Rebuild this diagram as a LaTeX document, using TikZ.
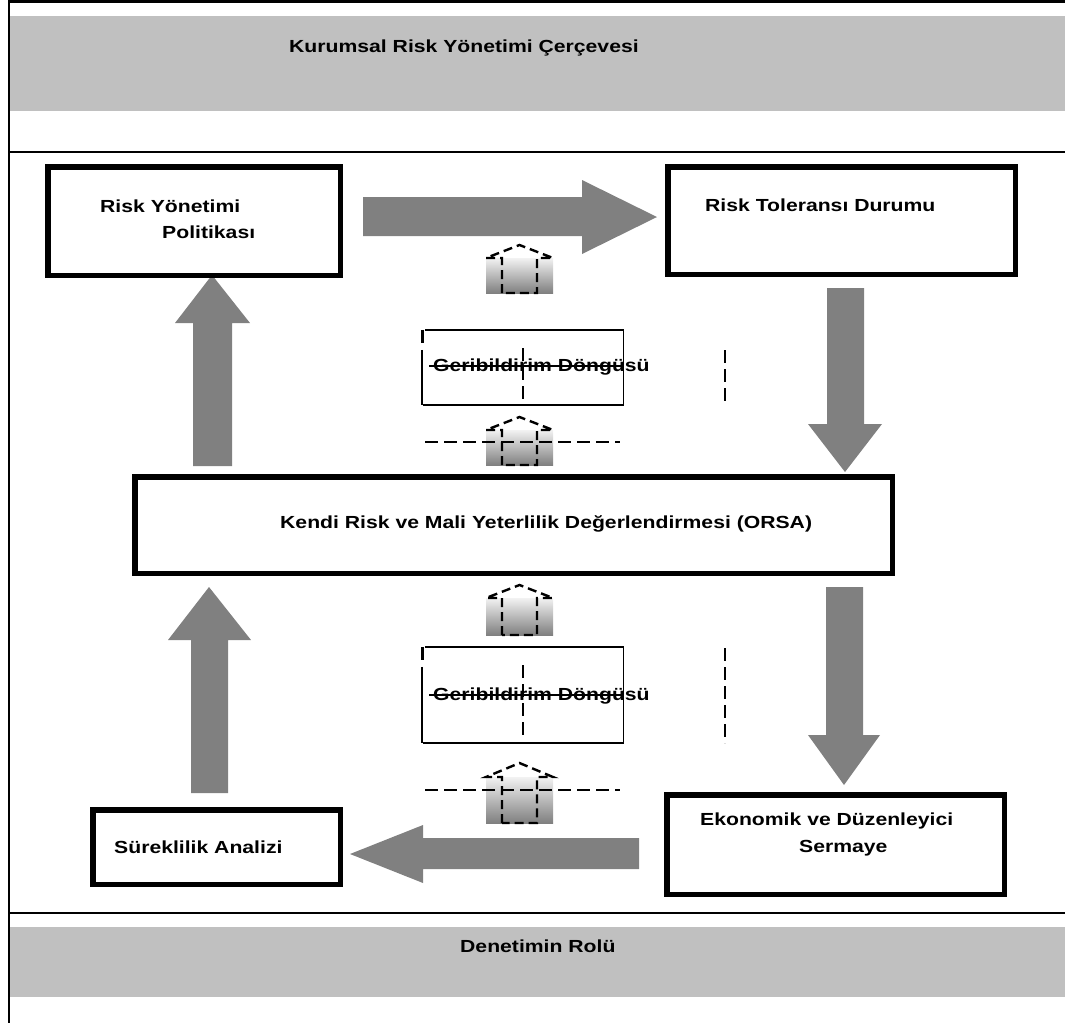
\documentclass[tikz,border=0pt]{standalone}
\usepackage{fontspec}
\setmainfont{Liberation Sans}[FakeStretch=1.21]
\definecolor{bandgray}{HTML}{C0C0C0}
\definecolor{arrowgray}{HTML}{808080}
\newcommand\lblfont{\fontsize{17.5}{21}\selectfont\bfseries}
\begin{document}
\begin{tikzpicture}[x=1pt,y=-1pt,
  band/.style={fill=bandgray, draw=none},
  frameline/.style={line width=2.5pt},
  box/.style={draw=black, line width=5.5pt, rectangle, inner sep=0pt, fill=white},
  fbbox/.style={draw=none, rectangle, inner sep=0pt},
  fbline/.style={line width=1.5pt},
  fbedge/.style={line width=2pt},
  lbl/.style={anchor=base west, inner sep=0pt, font=\lblfont},
  blockarrow/.style={fill=arrowgray, draw=none},
  dashln/.style={line width=2pt, dash pattern=on 13pt off 6pt},
  strike/.style={line width=1.3pt},
  iconfill/.style={top color=black!5, bottom color=black!50, draw=none},
  iconline/.style={line width=2.4pt, dash pattern=on 9pt off 5pt}
]
\useasboundingbox (0,0) rectangle (1065,1023);

% header and footer bands
\fill[band] (10,16) rectangle (1065,111);
\fill[band] (10,927) rectangle (1065,997);

% frame
\draw[frameline] (9,0) -- (9,1023);
\draw[frameline] (9,1.5) -- (1065,1.5);
\draw[frameline] (9,152) -- (1065,152);
\draw[frameline] (9,913) -- (1065,913);

% block arrows between the stages
\fill[blockarrow] (363,197) -- (582,197) -- (582,180) -- (657,217) -- (582,254) -- (582,236) -- (363,236) -- cycle;
\fill[blockarrow] (827,288) -- (864,288) -- (864,424) -- (882,424) -- (845,472) -- (808,424) -- (827,424) -- cycle;
\fill[blockarrow] (193,466) -- (193,323) -- (175,323) -- (212,275) -- (250,323) -- (232,323) -- (232,466) -- cycle;
\fill[blockarrow] (826,587) -- (863,587) -- (863,735) -- (880,735) -- (844,785) -- (808,735) -- (826,735) -- cycle;
\fill[blockarrow] (191,793) -- (191,640) -- (168,640) -- (209,587) -- (251,640) -- (228,640) -- (228,793) -- cycle;
\fill[blockarrow] (639,838) -- (423,838) -- (423,825) -- (350,854) -- (423,883) -- (423,869) -- (639,869) -- cycle;

% stage boxes
\node[box, minimum width=292.5pt, minimum height=108.5pt] (policy) at (194,221) {};
\node[box, minimum width=347.5pt, minimum height=107.5pt] (tolerance) at (841.5,220.5) {};
\node[box, minimum width=757.5pt, minimum height=96.5pt] (orsa) at (513.5,525) {};
\node[box, minimum width=247.5pt, minimum height=74.5pt] (continuity) at (216.5,847) {};
\node[box, minimum width=337.5pt, minimum height=99.5pt] (capital) at (835.5,844.5) {};

% feedback loop boxes: three solid sides, broken left side
\node[fbbox, minimum width=201pt, minimum height=75pt] (fbone) at (523,367.5) {};
\node[fbbox, minimum width=201pt, minimum height=96pt] (fbtwo) at (523,695) {};
\foreach \b in {fbone, fbtwo} {
  \draw[fbline] ([xshift=3pt]\b.north west) -- (\b.north east) -- (\b.south east) -- ([xshift=1pt]\b.south west);
  \draw[line width=2.6pt] (\b.north west) -- ([yshift=-13pt]\b.north west);
  \draw[fbedge] ([yshift=-20pt]\b.north west) -- (\b.south west);
}

% feedback icons
\foreach \a/\h/\b in {245/258/293, 417/430/465, 585/598/635, 763/777/823} {
  \shade[iconfill] (486,\h) rectangle (553,\b);
  \draw[iconline] (502,\b) -- (502,\h) -- (486,\h) -- (519.5,\a) -- (553,\h) -- (537,\h) -- (537,\b) -- cycle;
}

% dashed guides
\draw[dashln] (523,348) -- (523,405);
\draw[dashln] (725,350) -- (725,405);
\draw[dashln] (425,442) -- (620,442);
\draw[dashln] (523,665) -- (523,740);
\draw[dashln] (725,648) -- (725,743);
\draw[dashln] (425,790) -- (620,790);

% labels
\node[lbl] (ttitle) at (289,52) {Kurumsal Risk Yönetimi Çerçevesi};
\node[lbl] (tpolicya) at (100,212) {Risk Yönetimi};
\node[lbl] (tpolicyb) at (162,238) {Politikası};
\node[lbl] (ttol) at (705,211) {Risk Toleransı Durumu};
\node[lbl] (tfbone) at (433,371) {Geribildirim Döngüsü};
\node[lbl] (torsa) at (280,528) {Kendi Risk ve Mali Yeterlilik Değerlendirmesi (ORSA)};
\node[lbl] (tfbtwo) at (433,700) {Geribildirim Döngüsü};
\node[lbl] (tcapa) at (700,825) {Ekonomik ve Düzenleyici};
\node[lbl] (tcapb) at (799,852) {Sermaye};
\node[lbl] (tcont) at (114,853) {Süreklilik Analizi};
\node[lbl] (tsup) at (460,952) {Denetimin Rolü};

% lines struck through the feedback labels
\draw[strike] (429,366) -- (623,366);
\draw[strike] (429,695) -- (623,695);
\end{tikzpicture}
\end{document}
